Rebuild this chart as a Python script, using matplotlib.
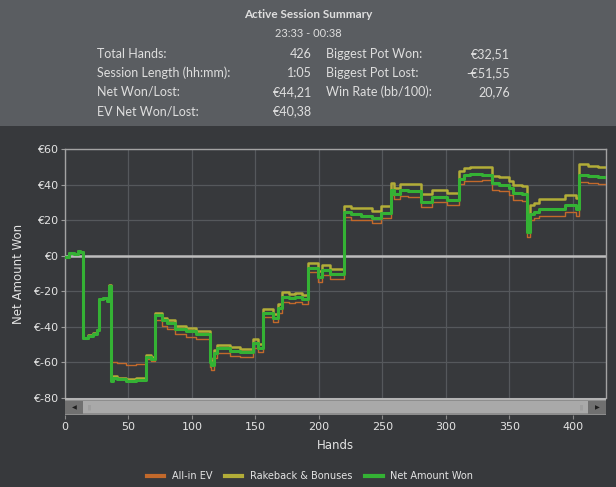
import matplotlib
matplotlib.use("Agg")
import matplotlib.pyplot as plt
from matplotlib.lines import Line2D
from matplotlib.patches import Rectangle

# ---------------- data (breakpoints, drawn as steps) ----------------
hands = [0, 3, 7, 10, 12, 14, 18, 22, 25, 27, 30, 33, 35, 36, 38, 41, 48, 56, 64, 68,
         71, 76, 80, 87, 95, 103, 114, 115, 117, 120, 130, 138, 148, 152, 156, 164, 168,
         171, 176, 181, 187, 191, 199, 202, 209, 220, 225, 233, 242, 249, 257, 259, 264,
         270, 280, 289, 301, 310, 314, 319, 328, 336, 342, 350, 353, 360, 364, 366, 369,
         373, 394, 402, 405, 412, 420, 426]
net_won = [-0.8, 1.5, 0.8, 2.8, 2.2, -46.5, -45.0, -43.8, -41.8, -24.5, -24.0, -25.5, -17.0,
           -70.5, -68.5, -69.3, -70.2, -69.6, -57.0, -58.0,
           -33.2, -36.4, -37.9, -41.0, -42.6, -44.0, -59.5, -61.2, -54.7, -51.9, -53.6, -54.2,
           -49.1, -51.9, -32.3, -35.0, -29.5,
           -23.0, -24.0, -23.2, -24.3, -7.1, -11.8, -8.0, -10.2, 24.5, 23.2, 22.6, 21.0, 23.8,
           37.2, 34.5, 36.8,
           36.5, 30.3, 33.0, 31.4, 43.4, 45.2, 46.0, 45.6, 40.8, 40.0, 38.0, 35.3, 34.7, 13.4,
           23.7, 24.7,
           26.0, 28.4, 26.3, 45.5, 44.8, 44.2, 44.21]
rakeback = [-0.8, 1.5, 0.9, 2.9, 2.3, -46.3, -44.8, -43.5, -41.5, -24.1, -23.6, -25.0, -16.5,
            -70.0, -67.8, -68.5, -69.4, -68.8, -56.0, -57.0,
            -32.0, -35.0, -36.4, -39.4, -40.9, -42.3, -57.6, -59.3, -52.8, -50.0, -51.6, -52.2,
            -47.0, -49.8, -30.2, -32.8, -27.3,
            -20.6, -21.6, -20.9, -22.0, -4.3, -8.8, -5.2, -7.3, 28.2, 27.0, 26.6, 25.0, 27.8,
            41.0, 38.0, 40.5,
            40.3, 34.6, 37.2, 35.4, 47.6, 49.3, 50.0, 49.8, 44.8, 44.2, 42.0, 39.6, 39.0, 17.5,
            28.4, 29.8,
            32.0, 34.4, 32.3, 51.4, 50.5, 49.8, 49.7]
allin_ev = [-0.8, 1.5, 0.8, 2.8, 2.2, -46.5, -45.0, -43.8, -41.8, -24.5, -24.0, -25.5, -17.0,
            -59.5, -59.5, -60.5, -61.3, -61.0, -58.0, -59.0,
            -36.0, -39.5, -41.3, -44.2, -45.7, -46.9, -62.5, -64.4, -57.5, -54.7, -56.4, -57.0,
            -51.9, -54.4, -34.6, -37.2, -32.3,
            -25.8, -26.8, -26.0, -27.0, -9.3, -14.5, -10.8, -13.0, 21.5, 20.3, 19.8, 18.5, 21.2,
            34.3, 32.0, 33.3,
            33.0, 27.5, 30.3, 28.6, 40.5, 41.8, 42.2, 42.4, 37.2, 36.6, 34.3, 31.4, 30.8, 10.3,
            20.0, 21.0,
            22.3, 24.7, 22.2, 41.5, 41.0, 40.4, 40.38]

series_names = ["All-in EV", "Rakeback & Bonuses", "Net Amount Won"]
x_ticks = [0, 50, 100, 150, 200, 250, 300, 350, 400]
y_ticks = [-80, -60, -40, -20, 0, 20, 40, 60]

summary_left = [("Total Hands:", "426"), ("Session Length (hh:mm):", "1:05"),
                ("Net Won/Lost:", "€44,21"), ("EV Net Won/Lost:", "€40,38")]
summary_right = [("Biggest Pot Won:", "€32,51"), ("Biggest Pot Lost:", "-€51,55"),
                 ("Win Rate (bb/100):", "20,76")]

# ---------------- style ----------------
BG = "#37393c"
HEADER = "#5a5d61"
C_EV = "#c2692b"
C_RB = "#b2ad38"
C_NET = "#34b234"
TXT = "#e4e4e4"
HTXT = "#dedede"

W, H = 616, 487
fig = plt.figure(figsize=(W / 100, H / 100), dpi=100, facecolor=BG)

def fx(px):
    return px / W

def fy(py):
    return 1 - py / H

# header band
fig.patches.append(Rectangle((0, fy(126)), 1, 126 / H, transform=fig.transFigure,
                             facecolor=HEADER, edgecolor="none", zorder=0))
hfont = "Lato"
fig.text(fx(308), fy(15), "Active Session Summary", ha="center", va="center",
         color=HTXT, fontsize=8.5, fontweight="bold", family=hfont)
fig.text(fx(308), fy(33), "23:33 - 00:38", ha="center", va="center",
         color=HTXT, fontsize=8, family=hfont)
rows_y = [54, 73, 92, 111]
for (lab, val), y in zip(summary_left, rows_y):
    fig.text(fx(97), fy(y), lab, ha="left", va="center", color=HTXT, fontsize=9, family=hfont)
    fig.text(fx(312), fy(y), val, ha="right", va="center", color=HTXT, fontsize=9, family=hfont)
for (lab, val), y in zip(summary_right, rows_y):
    fig.text(fx(326), fy(y), lab, ha="left", va="center", color=HTXT, fontsize=9, family=hfont)
    fig.text(fx(510), fy(y), val, ha="right", va="center", color=HTXT, fontsize=9, family=hfont)

# main axes
L, R, T, B = 65, 606, 149, 398
ax = fig.add_axes([fx(L), fy(B), (R - L) / W, (B - T) / H], facecolor=BG)
ax.set_xlim(0, 426)
ax.set_ylim(-80, 60)
ax.set_yticks(y_ticks)
ax.set_yticklabels([f"€{v}" for v in y_ticks])
ax.set_xticks(x_ticks)
ax.tick_params(axis="x", labelbottom=False, length=0)
ax.tick_params(axis="y", colors="#9a9a9a", labelcolor=TXT, labelsize=8, length=3, pad=2)
ax.grid(True, color="#55585c", lw=0.9)
ax.set_axisbelow(True)
for s in ["left", "top", "right"]:
    ax.spines[s].set_color("#a3a3a3")
    ax.spines[s].set_linewidth(1)
ax.spines["bottom"].set_visible(False)
ax.axhline(0, color="#bdbdbd", lw=1.8, zorder=1.5)

ax.step(hands, allin_ev, where="post", color=C_EV, lw=1.0, zorder=3)
ax.step(hands, rakeback, where="post", color=C_RB, lw=1.8, zorder=4)
ax.step(hands, net_won, where="post", color=C_NET, lw=2.2, zorder=5)

ax.set_ylabel("Net Amount Won", color=TXT, fontsize=8.5, labelpad=6)

# scrollbar axes (also carries the x ticks)
SB_T, SB_B = 398, 415
sb = fig.add_axes([fx(L), fy(SB_B), (R - L) / W, (SB_B - SB_T) / H], facecolor="#8d8d8d",
                  sharex=ax)
sb.set_ylim(0, 1)
sb.set_yticks([])
for s in sb.spines.values():
    s.set_visible(False)
sb.tick_params(axis="x", colors="#8a8a8a", labelcolor=TXT, labelsize=8, length=3, pad=2,
               direction="out")
bw = 18 / (R - L)
tr = sb.transAxes
sb.add_patch(Rectangle((0, 0), 1, 1, transform=tr, facecolor="#8d8d8d", edgecolor="none"))
sb.add_patch(Rectangle((0, 0.88), 1, 0.12, transform=tr, facecolor="#b4b4b4", edgecolor="none"))
sb.add_patch(Rectangle((0, 0.05), bw, 0.8, transform=tr, facecolor="#707070", edgecolor="none"))
sb.add_patch(Rectangle((1 - bw, 0.05), bw, 0.8, transform=tr, facecolor="#707070", edgecolor="none"))
sb.add_patch(Rectangle((bw, 0.1), 1 - 2 * bw, 0.72, transform=tr, facecolor="#a9a9a9",
                       edgecolor="none"))
sb.text(bw / 2, 0.45, "◀", transform=tr, ha="center", va="center", fontsize=4.5, color="#1e1e1e")
sb.text(1 - bw / 2, 0.45, "▶", transform=tr, ha="center", va="center", fontsize=4.5, color="#1e1e1e")
sb.text(bw + 0.012, 0.45, "||", transform=tr, ha="center", va="center", fontsize=4, color="#808080")
sb.text(1 - bw - 0.012, 0.45, "||", transform=tr, ha="center", va="center", fontsize=4, color="#808080")
sb.set_xlabel("Hands", color=TXT, fontsize=8.5, labelpad=5)

# legend
handles = [Line2D([], [], color=c, lw=3) for c in (C_EV, C_RB, C_NET)]
fig.legend(handles, series_names, loc="center", bbox_to_anchor=(fx(310), fy(476)), ncol=3,
           frameon=False, fontsize=7, labelcolor=TXT, handlelength=1.8, handletextpad=0.8,
           columnspacing=1.3)

fig.savefig("out.png", dpi=100, facecolor=BG)
